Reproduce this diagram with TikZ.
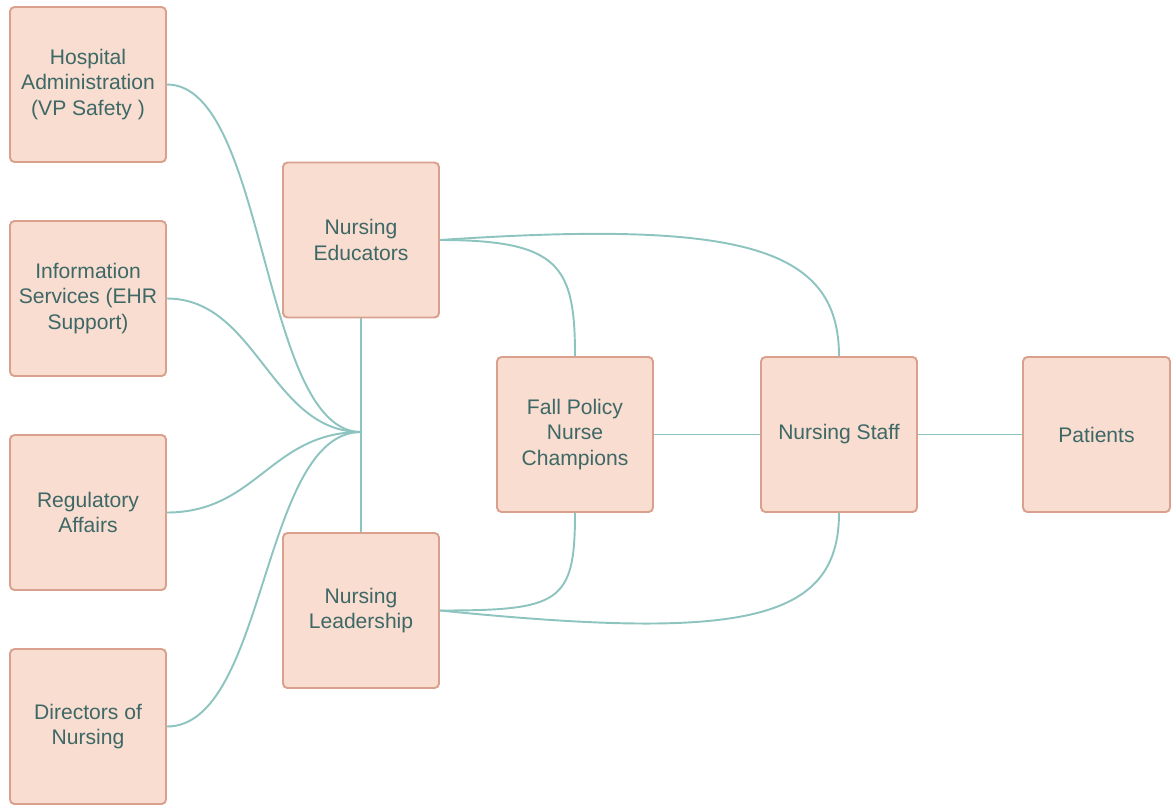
\documentclass[tikz,border=0pt]{standalone}
\usepackage{fontspec}
\setmainfont{Liberation Sans}
\usepackage{tikz}
\usetikzlibrary{calc}

\definecolor{boxfill}{HTML}{F8DDD0}
\definecolor{boxline}{HTML}{D9A18D}
\definecolor{boxtext}{HTML}{3E6866}
\definecolor{linkcol}{HTML}{8DC4BF}

\begin{document}
\begin{tikzpicture}[x=0.02cm, y=-0.02cm,
    party/.style={rectangle, draw=boxline, fill=boxfill, line width=1.1pt, rounded corners=2.5pt, minimum width=3.12cm, minimum height=3.1cm, align=center, text=boxtext, font=\fontsize{12}{14.7}\selectfont},
    link/.style={draw=linkcol, line width=1.1pt}]
            \useasboundingbox (0,0) rectangle (1172,805);
            \node[party] (hosp) at (88,84.5) {Hospital\\Administration\\(VP Safety )};
            \node[party] (info) at (88,298.5) {Information\\Services (EHR\\Support)};
            \node[party] (reg) at (88,512.5) {Regulatory\\Affairs};
            \node[party] (dir) at (88,726.5) {Directors of\\Nursing};
            \node[party] (edu) at (361,240) {Nursing\\Educators};
            \node[party] (lead) at (361,610.5) {Nursing\\Leadership};
            \node[party] (fall) at (575,434.5) {Fall Policy\\Nurse\\Champions};
            \node[party] (staff) at (839,434.5) {Nursing Staff};
            \node[party, minimum width=2.94cm] (pat) at (1096.5,434.5) {Patients};
            \coordinate (hub) at (361,432);
            \path[link] (edu) -- (lead);
            \path[link] (hosp.east) .. controls +(100,0) and +(-100,0) .. (hub);
            \path[link] (info.east) .. controls +(90,0) and +(-90,0) .. (hub);
            \path[link] (reg.east) .. controls +(90,0) and +(-90,0) .. (hub);
            \path[link] (dir.east) .. controls +(100,0) and +(-100,0) .. (hub);
            \path[link] (edu.east) .. controls +(120,0) and +(0,-90) .. (fall.north);
            \path[link] (edu.east) .. controls +(300,-20) and +(0,-110) .. (staff.north);
            \path[link] (lead.east) .. controls +(120,0) and +(0,90) .. (fall.south);
            \path[link] (lead.east) .. controls +(300,30) and +(0,110) .. (staff.south);
            \path[link] (fall) -- (staff);
            \path[link] (staff) -- (pat);
        \end{tikzpicture}
\end{document}
